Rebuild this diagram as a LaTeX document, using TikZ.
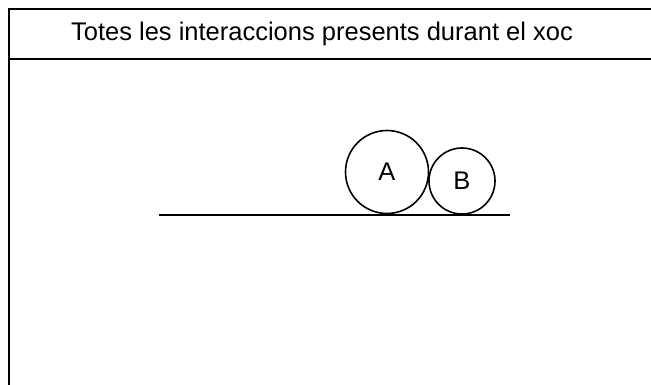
\documentclass[tikz,border=0pt]{standalone}
\usepackage{fontspec}
\setmainfont{Liberation Sans}
\usetikzlibrary{positioning}

\begin{document}
\begin{tikzpicture}[x=1pt, y=-1pt,
        frameline/.style={line width=2pt},
        ball/.style={circle, draw, line width=1.6pt, inner sep=0pt, font=\fontsize{25.5}{30}\selectfont}]
            \useasboundingbox (0,0) rectangle (651,385);
            % Frame with header
            \draw[frameline] (651,9.5) -- (8.5,9.5) -- (8.5,385);
            \draw[frameline] (8.5,59) -- (651,59);
            \node[font=\fontsize{25.5}{30}\selectfont] (title) at (322,34) {Totes les interaccions presents durant el xoc};
            % Ground and the two balls
            \coordinate (g1) at (159,215);
            \coordinate (g2) at (510,215);
            \draw[line width=2.2pt] (g1) -- (g2);
            \node[ball, minimum size=83pt] (A) at (387,172) {A};
            \node[ball, minimum size=66pt] (B) at (462,181) {B};
        \end{tikzpicture}
\end{document}
